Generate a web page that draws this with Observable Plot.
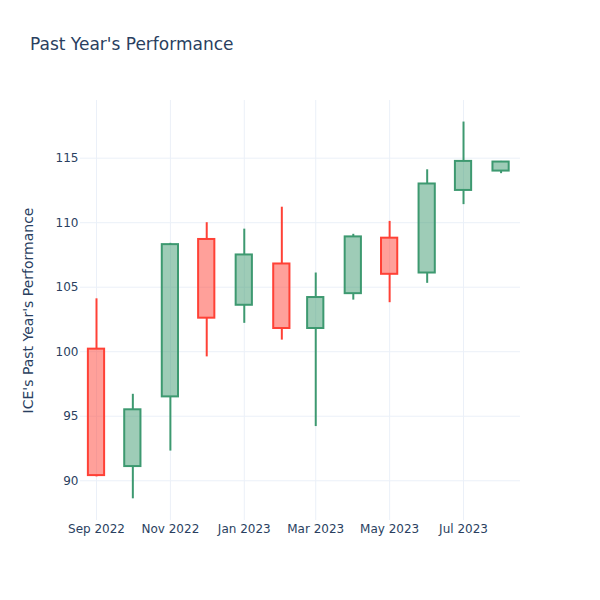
<!DOCTYPE html>
<html><head><meta charset="utf-8">
<script src="https://cdn.jsdelivr.net/npm/d3@7"></script>
<script src="https://cdn.jsdelivr.net/npm/@observablehq/plot@0.6"></script>
<style>
body{margin:0;background:#fff;}
#wrap{position:relative;width:600px;height:600px;}
#title{position:absolute;left:30px;top:34px;font:17px "DejaVu Sans", sans-serif;color:#2a3f5f;white-space:nowrap;}
</style></head>
<body><div id="wrap"><div id="title">Past Year's Performance</div></div>
<script>
const dates = ["2022-09-01","2022-10-01","2022-11-01","2022-12-01","2023-01-01","2023-02-01","2023-03-01","2023-04-01","2023-05-01","2023-06-01","2023-07-01","2023-08-01"];
const opens  = [100.2, 91.1, 96.5, 108.7, 103.6, 106.8, 101.8, 104.5, 108.8, 106.1, 112.5, 114.0];
const closes = [90.4, 95.5, 108.3, 102.6, 107.5, 101.8, 104.2, 108.9, 106.0, 113.0, 114.75, 114.7];
const highs  = [104.1, 96.7, 108.4, 110.0, 109.5, 111.2, 106.1, 109.1, 110.1, 114.1, 117.8, 114.75];
const lows   = [90.3, 88.6, 92.3, 99.6, 102.2, 100.9, 94.2, 104.0, 103.8, 105.3, 111.4, 113.8];
const yTicks = [90, 95, 100, 105, 110, 115];
const xTicks = ["2022-09-01","2022-11-01","2023-01-01","2023-03-01","2023-05-01","2023-07-01"];
const yTitle = "ICE's Past Year's Performance";

const data = dates.map((d, i) => ({date: new Date(d + "T00:00:00Z"), open: opens[i], close: closes[i], high: highs[i], low: lows[i]}));
const xt = xTicks.map(d => new Date(d + "T00:00:00Z"));
const DAY = 864e5;
const halfW = 6.7 * DAY;
const col = d => d.close >= d.open ? "#3D9970" : "#FF4136";
const bodyTop = d => Math.max(d.open, d.close);
const bodyBot = d => Math.min(d.open, d.close);
const font = '"DejaVu Sans", sans-serif';

const chart = Plot.plot({
  width: 600, height: 600,
  marginLeft: 80, marginRight: 80, marginTop: 100, marginBottom: 80,
  style: {fontFamily: font, fontSize: "12px", color: "#2a3f5f", background: "#fff"},
  x: {type: "utc", domain: [new Date(Date.UTC(2022,7,18,19)), new Date(Date.UTC(2023,7,17,1))]},
  y: {domain: [86.92, 119.47]},
  marks: [
    Plot.gridX(xt, {stroke: "#EBF0F8", strokeOpacity: 1, strokeWidth: 1}),
    Plot.gridY(yTicks, {stroke: "#EBF0F8", strokeOpacity: 1, strokeWidth: 1}),
    Plot.axisX(xt, {tickSize: 0, tickPadding: 4, tickFormat: d3.utcFormat("%b %Y"), label: null, fill: "#2a3f5f", fontSize: 12}),
    Plot.axisY(yTicks, {tickSize: 0, tickPadding: 2, label: null, fill: "#2a3f5f", fontSize: 12}),
    Plot.text([yTitle], {frameAnchor: "left", textAnchor: "middle", rotate: -90, dx: -52, fontSize: 14, fill: "#2a3f5f"}),
    Plot.ruleX(data, {x: "date", y1: "low", y2: bodyBot, stroke: col, strokeWidth: 2}),
    Plot.ruleX(data, {x: "date", y1: bodyTop, y2: "high", stroke: col, strokeWidth: 2}),
    Plot.rect(data, {x1: d => new Date(+d.date - halfW), x2: d => new Date(+d.date + halfW), y1: "open", y2: "close", fill: col, fillOpacity: 0.5, stroke: col, strokeWidth: 2})
  ]
});
document.getElementById("wrap").prepend(chart);
</script></body></html>
